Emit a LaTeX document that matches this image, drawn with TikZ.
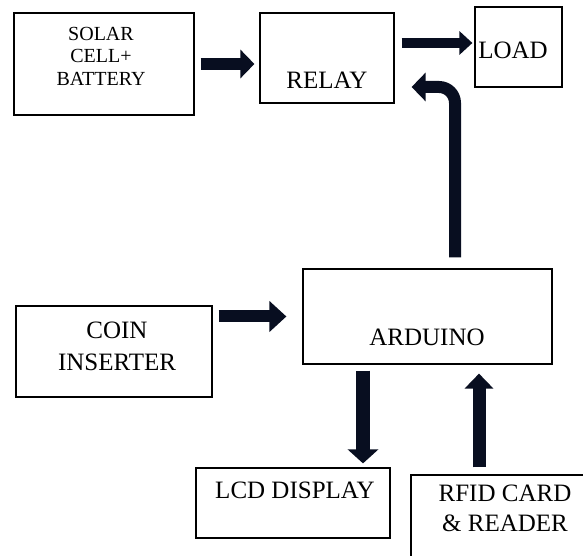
\documentclass[tikz,border=0pt]{standalone}
\usepackage{fontspec}
\setmainfont{Liberation Serif}
\usetikzlibrary{arrows.meta}
\definecolor{arrowcol}{RGB}{8,14,32}

\begin{document}
\begin{tikzpicture}[x=1pt, y=1pt,
  box/.style={draw, line width=1.2pt, inner sep=0pt},
  txt/.style={font=\fontsize{25}{32}\selectfont, align=center, inner sep=0pt},
  bigarrow/.style={draw=arrowcol, line width=12pt, -{Triangle[width=28pt,length=14pt]}}]
\useasboundingbox (0,0) rectangle (583,556);
\clip (0,0) rectangle (583,556);

\node (solar) at (104,492) [box, minimum width=180pt, minimum height=102pt] {};
\node (relay) at (327,498) [box, minimum width=134pt, minimum height=90pt] {};
\node (load) at (518.5,509) [box, minimum width=87pt, minimum height=80pt] {};
\node (arduino) at (427.5,239.5) [box, minimum width=249pt, minimum height=95pt] {};
\node (coin) at (114,204.5) [box, minimum width=196pt, minimum height=91pt] {};
\node (lcd) at (293,53) [box, minimum width=194pt, minimum height=70pt] {};
\node (rfid) at (511,23.5) [box, minimum width=200pt, minimum height=115pt] {};

\node (solartxt) at (101,500) [txt, font=\fontsize{20}{22.5}\selectfont] {SOLAR\\CELL+\\BATTERY};
\node (relaytxt) at (327,476) [txt] {RELAY};
\node (loadtxt) at (513,506) [txt] {LOAD};
\node (arduinotxt) at (427,219) [txt] {ARDUINO};
\node (cointxt) at (117,210) [txt] {COIN\\INSERTER};
\node (lcdtxt) at (295,66) [txt] {LCD DISPLAY};
\node (rfidtxt) at (505,48) [txt, font=\fontsize{25}{30}\selectfont] {RFID CARD\\\& READER};

\draw[bigarrow, shorten <=6pt, shorten >=5pt] (solar.east) -- (solar.east -| relay.west);
\draw[bigarrow, line width=10pt, -{Triangle[width=23pt,length=13pt]}, shorten <=7pt, shorten >=2pt]
  ([yshift=15pt]relay.east) -- ([yshift=15pt]relay.east -| load.west);
\draw[bigarrow, rounded corners=16pt, shorten <=11pt, shorten >=17pt]
  ([xshift=27.5pt]arduino.north) |- ([yshift=-29pt]relay.east);
\draw[bigarrow, -{Triangle[width=30pt,length=17pt]}, shorten <=6pt, shorten >=16pt]
  (coin.east |- arduino.west) -- (arduino.west);
\draw[bigarrow, line width=14pt, -{Triangle[width=30pt,length=14pt]}, shorten <=6pt, shorten >=4pt]
  ([xshift=-64.5pt]arduino.south) -- ([xshift=-64.5pt]arduino.south |- lcd.north);
\draw[bigarrow, line width=13pt, -{Triangle[width=28pt,length=15pt]}, shorten <=7pt, shorten >=9pt]
  ([xshift=51.5pt]arduino.south |- rfid.north) -- ([xshift=51.5pt]arduino.south);
\end{tikzpicture}
\end{document}
